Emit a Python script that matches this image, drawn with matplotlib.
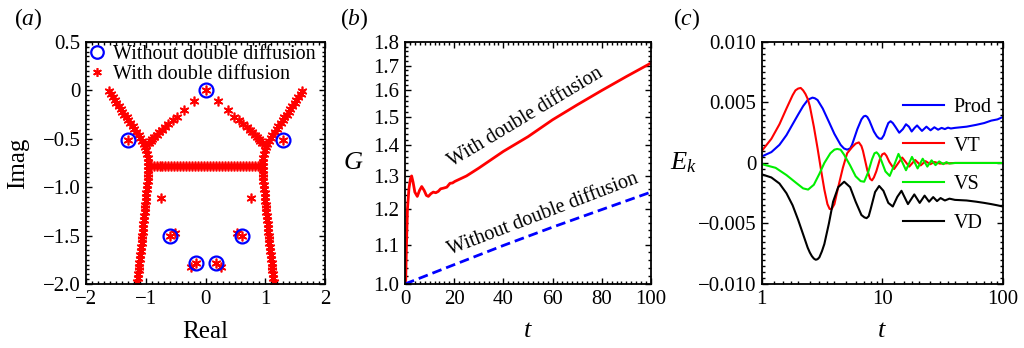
import matplotlib
matplotlib.use("Agg")
import matplotlib.pyplot as plt
from matplotlib.ticker import FixedLocator, NullFormatter, AutoMinorLocator, LogLocator

plt.rcParams["font.family"] = ["Liberation Serif", "DejaVu Serif"]
plt.rcParams["mathtext.fontset"] = "custom"
plt.rcParams["mathtext.rm"] = "Liberation Serif"
plt.rcParams["mathtext.it"] = "Liberation Serif:italic"
plt.rcParams["axes.unicode_minus"] = True

# ---------------- (a) spectrum ----------------
branch_imag = [-0.01, -0.04, -0.07, -0.10, -0.13, -0.16, -0.19, -0.22, -0.25, -0.28,
               -0.31, -0.34, -0.37, -0.40, -0.43, -0.46, -0.49, -0.52, -0.55, -0.58,
               -0.62, -0.66, -0.70, -0.74, -0.78, -0.82, -0.86, -0.90, -0.94, -0.98,
               -1.02, -1.06, -1.10, -1.14, -1.18, -1.22, -1.26, -1.30, -1.34, -1.38,
               -1.42, -1.46, -1.50, -1.54, -1.58, -1.62, -1.66, -1.70, -1.74, -1.78,
               -1.82, -1.86, -1.90, -1.94, -1.98]
left_real = [-1.62, -1.59, -1.55, -1.52, -1.49, -1.45, -1.42, -1.39, -1.36, -1.32,
             -1.29, -1.26, -1.22, -1.19, -1.16, -1.12, -1.09, -1.06, -1.03, -1.01,
             -0.99, -0.98, -0.97, -0.965, -0.96, -0.96, -0.96, -0.965, -0.97, -0.975,
             -0.98, -0.99, -0.995, -1.00, -1.01, -1.015, -1.02, -1.025, -1.03, -1.04,
             -1.045, -1.05, -1.06, -1.065, -1.07, -1.08, -1.085, -1.09, -1.10, -1.105,
             -1.11, -1.12, -1.125, -1.13, -1.14]
right_real = [1.62, 1.59, 1.55, 1.52, 1.49, 1.45, 1.42, 1.39, 1.36, 1.32,
              1.29, 1.26, 1.22, 1.19, 1.16, 1.12, 1.09, 1.06, 1.03, 1.01,
              0.99, 0.98, 0.97, 0.965, 0.96, 0.96, 0.96, 0.965, 0.97, 0.975,
              0.98, 0.99, 0.995, 1.00, 1.01, 1.015, 1.02, 1.025, 1.03, 1.04,
              1.045, 1.05, 1.06, 1.065, 1.07, 1.08, 1.085, 1.09, 1.10, 1.105,
              1.11, 1.12, 1.125, 1.13, 1.14]
flat_real = [-0.92, -0.87, -0.82, -0.77, -0.72, -0.67, -0.62, -0.57, -0.52, -0.47,
             -0.42, -0.37, -0.32, -0.27, -0.22, -0.17, -0.12, -0.07, -0.02, 0.03,
             0.08, 0.13, 0.18, 0.23, 0.28, 0.33, 0.38, 0.43, 0.48, 0.53,
             0.58, 0.63, 0.68, 0.73, 0.78, 0.83, 0.88, 0.92]
flat_imag = [-0.78] * len(flat_real)
arm_left_real = [-0.20, -0.36, -0.47, -0.55, -0.62, -0.68, -0.73, -0.78, -0.82, -0.86, -0.89, -0.92, -0.95]
arm_right_real = [0.21, 0.37, 0.48, 0.56, 0.63, 0.69, 0.74, 0.78, 0.82, 0.86, 0.89, 0.92, 0.95]
arm_imag = [-0.11, -0.20, -0.27, -0.31, -0.35, -0.38, -0.41, -0.43, -0.46, -0.48, -0.50, -0.52, -0.54]
iso_real = [0.0, -1.30, 1.30, -0.74, 0.76, -0.60, -0.51, 0.61, 0.52, -0.16, -0.25, 0.17, 0.26]
iso_imag = [0.0, -0.51, -0.51, -1.11, -1.11, -1.50, -1.47, -1.50, -1.47, -1.78, -1.82, -1.78, -1.82]
no_dd_real = [0.0, -1.30, 1.30, -0.60, 0.61, -0.16, 0.17]
no_dd_imag = [0.0, -0.51, -0.51, -1.50, -1.50, -1.78, -1.78]

# ---------------- (b) growth G ----------------
tb_dd = [0, 0.3, 0.6, 1.0, 1.6, 2.2, 2.7, 3.3, 4.0, 5.0, 5.9, 6.8, 7.8, 8.7, 9.5,
         10.5, 11.5, 12.5, 13.5, 14.5, 15.6, 17.0, 18.3, 19.3, 20.3, 25, 30, 40,
         50, 60, 70, 80, 90, 100]
G_dd = [1.0, 1.01, 1.10, 1.20, 1.26, 1.29, 1.30, 1.28, 1.25, 1.237, 1.255, 1.267,
        1.255, 1.24, 1.237, 1.245, 1.25, 1.248, 1.252, 1.26, 1.262, 1.265, 1.277,
        1.278, 1.283, 1.30, 1.325, 1.38, 1.43, 1.49, 1.545, 1.60, 1.655, 1.71]
tb_nodd = [0, 20, 40, 60, 80, 100]
G_nodd = [1.0, 1.048, 1.098, 1.148, 1.198, 1.25]

# ---------------- (c) energy budget ----------------
t_prod = [1, 1.2, 1.4, 1.6, 1.8, 2.0, 2.2, 2.4, 2.5, 2.63, 2.75, 2.9, 3.2, 3.6, 4.0,
          4.5, 4.8, 5.1, 5.4, 5.6, 6.2, 6.7, 7.0, 7.25, 7.5, 7.8, 8.5, 9.0, 9.4, 9.85,
          10.3, 10.7, 11.2, 11.7, 12.2, 12.8, 13.8, 14.8, 15.7, 16.6, 17.5, 18.5, 19.4,
          21.3, 23.2, 25.1, 27, 29, 31, 33, 35, 37, 40, 50, 60, 70, 80, 90, 100]
prod = [0.00054, 0.0009, 0.0015, 0.0023, 0.0032, 0.0040, 0.0047, 0.0052, 0.0053,
        0.0054, 0.00535, 0.0052, 0.0045, 0.0034, 0.0024, 0.0015, 0.0012, 0.0011,
        0.0012, 0.0015, 0.0028, 0.0036, 0.00385, 0.0039, 0.0038, 0.0035, 0.0026,
        0.0022, 0.00202, 0.0020, 0.0023, 0.0028, 0.0033, 0.00345, 0.0033, 0.0030,
        0.0025, 0.0028, 0.0032, 0.0030, 0.0026, 0.0029, 0.0031, 0.00265, 0.0030,
        0.0027, 0.00295, 0.00275, 0.0029, 0.0028, 0.00292, 0.00285, 0.0029, 0.0030,
        0.00315, 0.0033, 0.0035, 0.0036, 0.0038]
t_vt = [1, 1.2, 1.4, 1.6, 1.8, 1.9, 2.0, 2.1, 2.2, 2.3, 2.4, 2.5, 2.7, 2.9, 3.1,
        3.3, 3.5, 3.65, 3.8, 4.0, 4.3, 4.7, 5.1, 5.6, 6.0, 6.38, 6.7, 6.9, 7.5, 7.9,
        8.2, 8.5, 8.9, 9.6, 10.0, 10.4, 10.8, 11.4, 12.5, 14.6, 16.7, 18.7, 20.8,
        22.8, 25, 27, 30, 40, 100]
vt = [0.0010, 0.0020, 0.0032, 0.0045, 0.0056, 0.0060, 0.00615, 0.0062, 0.0060,
      0.0057, 0.0053, 0.0047, 0.0030, 0.0012, -0.0006, -0.0022, -0.0034, -0.0038,
      -0.0038, -0.0034, -0.0020, -0.0004, 0.0008, 0.0013, 0.0016, 0.0017, 0.0014,
      0.0010, -0.0006, -0.0013, -0.00144, -0.0012, -0.0007, 0.0004, 0.00072,
      0.0008, 0.0006, 0.0001, -0.0005, 0.00045, -0.0003, 0.00025, -0.0002, 0.00015,
      -0.0001, 0.00008, -0.00005, 0.0, 0.0]
t_vs = [1, 1.3, 1.6, 1.9, 2.2, 2.42, 2.7, 3.0, 3.3, 3.7, 4.0, 4.22, 4.5, 4.8, 5.4,
        6.0, 6.6, 7.06, 7.6, 8.2, 8.6, 8.95, 9.3, 9.8, 10.6, 11.5, 12.5, 13.6, 15.7,
        17.6, 19.6, 21.6, 23.6, 25.6, 27.6, 29.6, 32, 34, 36, 40, 100]
vs = [-0.0001, -0.0004, -0.0010, -0.0016, -0.0021, -0.0022, -0.0018, -0.0009,
      0.0, 0.0008, 0.0011, 0.00116, 0.0011, 0.0007, -0.0002, -0.0011, -0.0015,
      -0.00155, -0.0008, 0.0003, 0.0008, 0.00088, 0.0007, 0.0002, -0.0007, -0.00107,
      -0.0002, 0.00075, -0.0006, 0.0005, -0.00045, 0.00035, -0.0003, 0.00022,
      -0.00018, 0.00013, -0.0001, 0.00007, -0.00005, 0.0, 0.0]
t_vd = [1, 1.2, 1.4, 1.6, 1.8, 2.0, 2.2, 2.4, 2.5, 2.6, 2.7, 2.8, 2.9, 3.0, 3.15,
        3.3, 3.6, 3.9, 4.3, 4.82, 5.4, 6.0, 6.7, 7.1, 7.4, 7.7, 8.0, 8.7, 9.4, 10.2,
        11.2, 12.2, 13.3, 14.4, 16.3, 18.4, 20.4, 22.4, 24.4, 26.4, 28.4, 30.4, 33,
        36, 40, 50, 60, 70, 80, 90, 100]
vd = [-0.00094, -0.0012, -0.0017, -0.0025, -0.0035, -0.0047, -0.0059, -0.0070,
      -0.0074, -0.0077, -0.0079, -0.0080, -0.00795, -0.0078, -0.0073, -0.0067,
      -0.0050, -0.0032, -0.0020, -0.00155, -0.0020, -0.0032, -0.0043, -0.0045,
      -0.00456, -0.0044, -0.0038, -0.0024, -0.0019, -0.0023, -0.0033, -0.0036,
      -0.0028, -0.0023, -0.0034, -0.0026, -0.0033, -0.0027, -0.0032, -0.00282,
      -0.00315, -0.0029, -0.0031, -0.00295, -0.00305, -0.0031, -0.0032, -0.0033,
      -0.0034, -0.0035, -0.0036]

FS = 15      # tick labels
LFS = 14.5   # legends / annotations
AFS = 18     # axis labels
star = (6, 2, 0)

fig = plt.figure(figsize=(10.24, 3.48), dpi=100)
ax_a = fig.add_axes([0.084, 0.184, 0.2334, 0.6954])
ax_b = fig.add_axes([0.3955, 0.184, 0.2402, 0.6954])
ax_c = fig.add_axes([0.744, 0.184, 0.2354, 0.6954])

for ax in (ax_a, ax_b, ax_c):
    ax.tick_params(which="both", direction="in", top=True, right=True,
                   labelsize=FS, width=1.0, pad=4)
    ax.tick_params(which="major", length=4)
    ax.tick_params(which="minor", length=2)
    for s in ax.spines.values():
        s.set_linewidth(1.3)

# (a)
kw = dict(ls="none", marker=star, ms=7, mew=1.2, color="red")
ax_a.plot(left_real, branch_imag, **kw)
ax_a.plot(right_real, branch_imag, **kw)
ax_a.plot(flat_real, flat_imag, **kw)
ax_a.plot(arm_left_real, arm_imag, **kw)
ax_a.plot(arm_right_real, arm_imag, **kw)
h_dd, = ax_a.plot(iso_real, iso_imag, **kw)
h_nodd, = ax_a.plot(no_dd_real, no_dd_imag, ls="none", marker="o", ms=10,
                    mfc="none", mec="blue", mew=1.6)
ax_a.set_xlim(-2, 2)
ax_a.set_ylim(-2, 0.5)
ax_a.set_xticks([-2, -1, 0, 1, 2])
ax_a.set_yticks([0.5, 0, -0.5, -1.0, -1.5, -2.0])
ax_a.set_yticklabels(["0.5", "0", "\u22120.5", "\u22121.0", "\u22121.5", "\u22122.0"])
ax_a.xaxis.set_minor_locator(AutoMinorLocator(10))
ax_a.yaxis.set_minor_locator(AutoMinorLocator(10))
ax_a.set_xlabel("Real", fontsize=AFS, labelpad=9)
ax_a.set_ylabel("Imag", fontsize=AFS)
ax_a.yaxis.set_label_coords(-0.24, 0.5)
ax_a.legend([h_nodd, h_dd], ["Without double diffusion", "With double diffusion"],
            loc="upper left", frameon=False, fontsize=LFS, handlelength=0.8,
            handletextpad=0.4, labelspacing=0.05, borderaxespad=0.05,
            borderpad=0.1, markerscale=0.9)

# (b)
ax_b.plot(tb_dd, G_dd, color="red", lw=2)
ax_b.plot(tb_nodd, G_nodd, color="blue", lw=2, ls=(0, (3.5, 1.8)))
ax_b.set_yscale("log")
ax_b.set_xlim(0, 100)
ax_b.set_ylim(1.0, 1.8)
ax_b.set_xticks([0, 20, 40, 60, 80, 100])
ax_b.xaxis.set_minor_locator(AutoMinorLocator(10))
gt = [1.0, 1.1, 1.2, 1.3, 1.4, 1.5, 1.6, 1.7, 1.8]
ax_b.yaxis.set_major_locator(FixedLocator(gt))
ax_b.set_yticklabels(["%.1f" % g for g in gt])
ax_b.yaxis.set_minor_locator(FixedLocator([1.0 + 0.02 * i for i in range(41)]))
ax_b.yaxis.set_minor_formatter(NullFormatter())
ax_b.set_xlabel(r"$t$", fontsize=AFS + 1, labelpad=8)
ax_b.set_ylabel(r"$G$", fontsize=AFS + 1, rotation=0, va="center")
ax_b.yaxis.set_label_coords(-0.21, 0.5)
ax_b.text(19, 1.33, "With double diffusion", rotation=31, rotation_mode="anchor",
          ha="left", va="baseline", fontsize=LFS)
ax_b.text(18.3, 1.074, "Without double diffusion", rotation=21, rotation_mode="anchor",
          ha="left", va="baseline", fontsize=LFS)

# (c)
ax_c.plot(t_prod, prod, color="blue", lw=1.5, label="Prod")
ax_c.plot(t_vt, vt, color="red", lw=1.5, label="VT")
ax_c.plot(t_vs, vs, color="#00ee00", lw=1.5, label="VS")
ax_c.plot(t_vd, vd, color="black", lw=1.5, label="VD")
ax_c.set_xscale("log")
ax_c.set_xlim(1, 100)
ax_c.set_ylim(-0.01, 0.01)
ax_c.set_xticks([1, 10, 100])
ax_c.set_xticklabels(["1", "10", "100"])
ax_c.xaxis.set_minor_locator(LogLocator(subs=[1.25, 1.5, 1.75, 2, 2.5, 3, 3.5, 4, 5, 6, 7, 8, 9]))
ax_c.xaxis.set_minor_formatter(NullFormatter())
ax_c.set_yticks([0.01, 0.005, 0, -0.005, -0.01])
ax_c.set_yticklabels(["0.010", "0.005", "0", "\u22120.005", "\u22120.010"])
ax_c.yaxis.set_minor_locator(AutoMinorLocator(10))
ax_c.set_xlabel(r"$t$", fontsize=AFS + 1, labelpad=8)
ax_c.set_ylabel(r"$E_k$", fontsize=AFS + 1, rotation=0, va="center")
ax_c.yaxis.set_label_coords(-0.325, 0.5)
ax_c.legend(loc="center right", frameon=False, fontsize=LFS, handlelength=2.0,
            handletextpad=0.5, labelspacing=0.98, borderaxespad=0.15,
            bbox_to_anchor=(1.0, 0.49))

for x, lab in [(0.014, "a"), (0.332, "b"), (0.657, "c")]:
    fig.text(x, 0.945, r"$(\mathit{%s})$" % lab, fontsize=17, ha="left", va="center")

fig.savefig("out.png", dpi=100)
